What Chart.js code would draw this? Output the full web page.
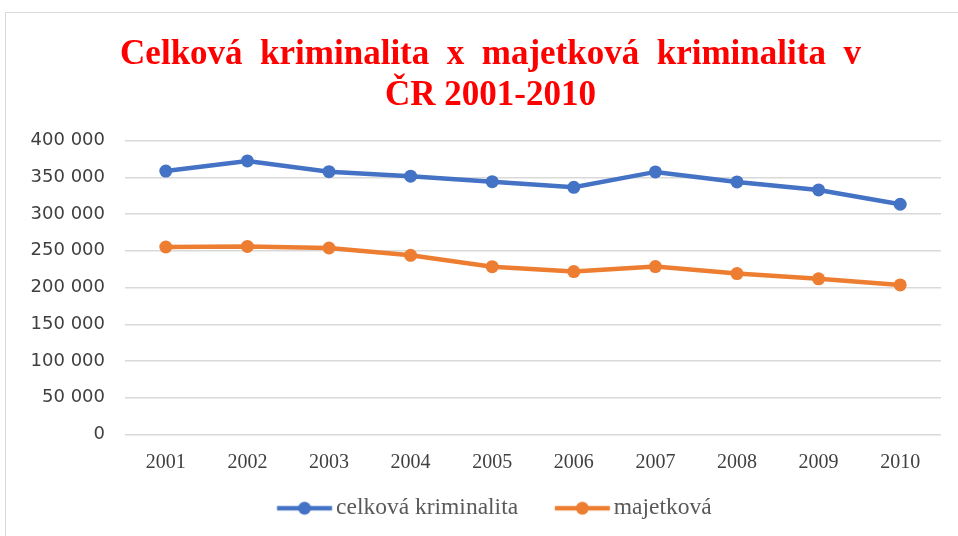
<!DOCTYPE html>
<html>
<head>
<meta charset="utf-8">
<script src="https://cdn.jsdelivr.net/npm/chart.js@4.4.1/dist/chart.umd.min.js"></script>
<style>
  body { margin: 0; background: #fff; }
  #frame { position: absolute; left: 5px; top: 12px; width: 960px; height: 540px; border: 1.5px solid #d9d9d9; }
  #wrap { position: absolute; left: 0; top: 0; width: 958px; height: 536px; }
</style>
</head>
<body>
<div id="frame"></div>
<div id="wrap"><canvas id="myChart" width="958" height="536"></canvas></div>
<script>
// values
var years = ['2001', '2002', '2003', '2004', '2005', '2006', '2007', '2008', '2009', '2010'];
var celkova = [358577, 372341, 357740, 351629, 344060, 336446, 357391, 343799, 332829, 313387];
var majetkova = [255200, 256000, 253800, 243900, 228400, 221800, 228600, 219000, 211900, 203600];

// line + dot icon for the legend (empty space on the left so it sits close to the text)
function legendIcon(color) {
  var c = document.createElement('canvas');
  c.width = 90; c.height = 16;
  var g = c.getContext('2d');
  g.strokeStyle = color;
  g.lineWidth = 4.5;
  g.beginPath();
  g.moveTo(32.75, 8); g.lineTo(87.75, 8);
  g.stroke();
  g.fillStyle = color;
  g.beginPath();
  g.arc(60.25, 8, 6.5, 0, Math.PI * 2);
  g.fill();
  return c;
}

// title and legend are centred a bit right of the canvas middle in the original
var nudge = {
  id: 'nudge',
  afterLayout: function (chart) {
    chart.titleBlock.left += 40;
    chart.legend.left += 25;
  }
};

var ctx = document.getElementById('myChart').getContext('2d');
var chart = new Chart(ctx, {
  type: 'line',
  data: {
    labels: years,
    datasets: [
      {
        label: 'celková kriminalita',
        data: celkova,
        borderColor: '#4472C4',
        backgroundColor: '#4472C4',
        borderWidth: 4.5,
        pointRadius: 6.5,
        pointBorderWidth: 0,
        fill: false
      },
      {
        label: 'majetková',
        data: majetkova,
        borderColor: '#ED7D31',
        backgroundColor: '#ED7D31',
        borderWidth: 4.5,
        pointRadius: 6.5,
        pointBorderWidth: 0,
        fill: false
      }
    ]
  },
  plugins: [nudge],
  options: {
    responsive: false,
    animation: false,
    layout: { padding: { left: 0, right: 17, top: 0, bottom: 6 } },
    plugins: {
      title: {
        display: true,
        text: ['Celková  kriminalita  x  majetková  kriminalita  v', 'ČR 2001-2010'],
        color: '#FF0000',
        font: { family: '"Liberation Serif", "Times New Roman", serif', size: 35, weight: 'bold', lineHeight: 1.18 },
        padding: { top: 34, bottom: 24 }
      },
      legend: {
        position: 'bottom',
        labels: {
          usePointStyle: true,
          pointStyleWidth: 70,
          padding: 14,
          color: '#595959',
          font: { family: '"Liberation Serif", "Times New Roman", serif', size: 23.5 },
          generateLabels: function (chart) {
            return chart.data.datasets.map(function (ds, i) {
              return {
                text: ds.label,
                pointStyle: legendIcon(ds.borderColor),
                fontColor: '#595959',
                lineWidth: 0,
                strokeStyle: 'transparent',
                fillStyle: ds.borderColor,
                datasetIndex: i
              };
            });
          }
        }
      },
      tooltip: { enabled: false }
    },
    scales: {
      x: {
        offset: true,
        grid: { display: false },
        border: { display: false },
        ticks: {
          color: '#404040',
          padding: 8,
          font: { family: '"Liberation Serif", "Times New Roman", serif', size: 20 }
        }
      },
      y: {
        min: 0,
        max: 400000,
        border: { display: false },
        grid: { color: '#d9d9d9', lineWidth: 1.5, drawTicks: false },
        afterFit: function (scale) { scale.width = 125; },
        ticks: {
          stepSize: 50000,
          padding: 20,
          color: '#404040',
          font: { family: '"DejaVu Sans", sans-serif', size: 18 },
          callback: function (v) {
            return v === 0 ? '0' : String(v).replace(/\B(?=(\d{3})+(?!\d))/g, ' ');
          }
        }
      }
    }
  }
});
</script>
</body>
</html>
